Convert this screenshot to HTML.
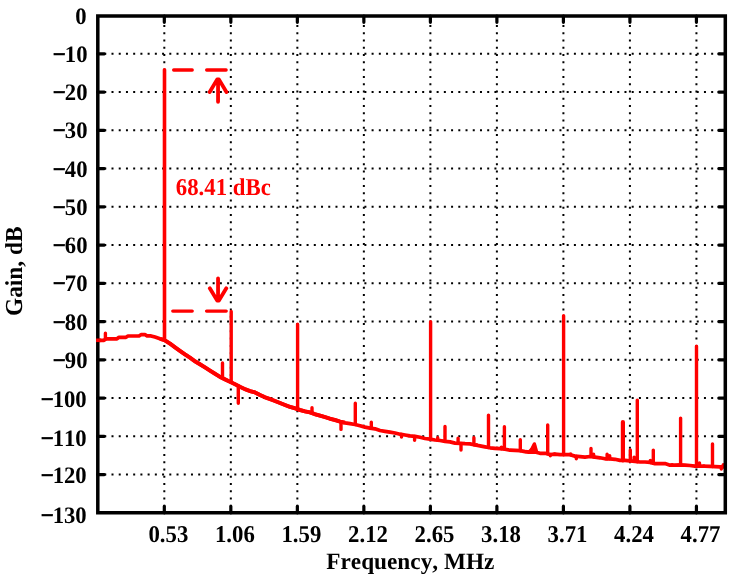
<!DOCTYPE html>
<html><head><meta charset="utf-8"><style>
html,body{margin:0;padding:0;background:#fff;width:733px;height:578px;overflow:hidden}
svg text{font-family:"Liberation Serif",serif;text-rendering:geometricPrecision;font-kerning:none}
svg{will-change:transform}
</style></head><body>
<svg width="733" height="578" viewBox="0 0 733 578" style="position:absolute;left:0;top:0">
<path d="M97.05 53.85H723.3 M97.05 92.09H723.3 M97.05 130.34H723.3 M97.05 168.58H723.3 M97.05 206.83H723.3 M97.05 245.08H723.3 M97.05 283.32H723.3 M97.05 321.57H723.3 M97.05 359.82H723.3 M97.05 398.06H723.3 M97.05 436.31H723.3 M97.05 474.55H723.3" stroke="#000" stroke-width="2" stroke-dasharray="2 5.225" fill="none"/>
<path d="M164.31 514.10V17.6 M230.83 514.10V17.6 M297.35 514.10V17.6 M363.86 514.10V17.6 M430.38 514.10V17.6 M496.89 514.10V17.6 M563.40 514.10V17.6 M629.92 514.10V17.6 M696.43 514.10V17.6" stroke="#000" stroke-width="2" stroke-dasharray="2 5.270" fill="none"/>
<path d="M97.8 53.85h6.5 M725.3 53.85h-6.5 M97.8 92.09h6.5 M725.3 92.09h-6.5 M97.8 130.34h6.5 M725.3 130.34h-6.5 M97.8 168.58h6.5 M725.3 168.58h-6.5 M97.8 206.83h6.5 M725.3 206.83h-6.5 M97.8 245.08h6.5 M725.3 245.08h-6.5 M97.8 283.32h6.5 M725.3 283.32h-6.5 M97.8 321.57h6.5 M725.3 321.57h-6.5 M97.8 359.82h6.5 M725.3 359.82h-6.5 M97.8 398.06h6.5 M725.3 398.06h-6.5 M97.8 436.31h6.5 M725.3 436.31h-6.5 M97.8 474.55h6.5 M725.3 474.55h-6.5 M164.31 512.8v-6.5 M164.31 16.2v6.1 M230.83 512.8v-6.5 M230.83 16.2v6.1 M297.35 512.8v-6.5 M297.35 16.2v6.1 M363.86 512.8v-6.5 M363.86 16.2v6.1 M430.38 512.8v-6.5 M430.38 16.2v6.1 M496.89 512.8v-6.5 M496.89 16.2v6.1 M563.40 512.8v-6.5 M563.40 16.2v6.1 M629.92 512.8v-6.5 M629.92 16.2v6.1 M696.43 512.8v-6.5 M696.43 16.2v6.1" stroke="#000" stroke-width="3.2" stroke-linecap="round" fill="none"/>
<path d="M97.8 340.3 L104.0 340.3 L106.0 338.8 L117.0 338.8 L119.0 337.3 L126.0 337.3 L128.0 336.0 L139.0 336.0 L141.0 334.7 L145.0 334.7 L147.0 335.8 L151.0 335.9 L155.0 337.1 L160.0 338.8 L164.5 340.1 L170.0 343.6 L175.0 347.3 L180.0 350.9 L185.0 354.4 L190.0 357.7 L195.0 361.3 L200.0 364.3 L205.0 367.4 L210.0 370.6 L215.0 373.8 L220.0 376.9 L225.0 379.4 L230.0 381.8 L235.0 384.2 L240.0 386.8 L245.0 389.2 L250.0 391.1 L255.0 392.4 L260.0 395.0 L265.0 397.3 L270.0 399.1 L275.0 401.0 L280.0 403.0 L285.0 405.0 L290.0 406.9 L295.0 408.3 L300.0 410.0 L305.0 411.4 L310.0 412.4 L315.0 414.2 L320.0 415.6 L325.0 417.1 L330.0 418.7 L335.0 420.0 L340.0 421.6 L345.0 422.8 L350.0 423.6 L355.0 424.5 L360.0 425.7 L365.0 427.1 L370.0 428.1 L375.0 428.8 L380.0 430.5 L385.0 431.4 L390.0 432.2 L395.0 433.0 L400.0 434.2 L405.0 435.0 L410.0 435.9 L415.0 436.4 L420.0 437.3 L425.0 438.5 L430.0 439.2 L435.0 440.0 L440.0 440.5 L445.0 441.3 L450.0 441.9 L455.0 443.1 L460.0 443.3 L465.0 443.7 L470.0 443.9 L475.0 445.0 L480.0 445.9 L485.0 446.9 L490.0 447.8 L495.0 448.3 L500.0 448.7 L505.0 449.2 L510.0 450.2 L515.0 450.4 L520.0 450.6 L525.0 451.6 L530.0 452.1 L535.0 452.0 L540.0 453.3 L545.0 453.3 L550.0 454.5 L555.0 454.2 L560.0 454.7 L565.0 454.7 L570.0 454.7 L575.0 456.1 L580.0 456.6 L585.0 457.1 L590.0 456.5 L595.0 457.2 L600.0 457.8 L605.0 458.8 L610.0 458.8 L615.0 459.3 L620.0 460.4 L625.0 460.4 L630.0 460.9 L635.0 461.4 L640.0 462.0 L645.0 462.0 L650.0 462.4 L655.0 463.6 L660.0 463.6 L665.0 463.6 L670.0 465.2 L675.0 465.2 L680.0 464.8 L685.0 465.2 L690.0 465.5 L695.0 466.2 L700.0 466.0 L710.0 466.4 L720.0 466.8 L725.3 466.6" stroke="#ff0000" stroke-width="3.7" fill="none" stroke-linejoin="round"/>
<path d="M160.0 338.8 L164.5 340.1 L170.0 343.6 L175.0 347.3 L180.0 350.9 L185.0 354.4 L190.0 357.7 L195.0 361.3 L200.0 364.3 L205.0 367.4 L210.0 370.6 L215.0 373.8 L220.0 376.9 L225.0 379.4 L230.0 381.8 L235.0 384.2 L240.0 386.8 L245.0 389.2 L250.0 391.1 L255.0 392.4 L260.0 395.0 L265.0 397.3 L270.0 399.1 L275.0 401.0 L280.0 403.0 L285.0 405.0 L290.0 406.9 L295.0 408.3 L300.0 410.0 L305.0 411.4 L310.0 412.4 L315.0 414.2 L320.0 415.6 L325.0 417.1 L330.0 418.7 L335.0 420.0 L340.0 421.6 L345.0 422.8" stroke="#ff0000" stroke-width="4.0" fill="none" stroke-linejoin="round"/>
<path d="M105.4 339.2V333.2 M222.5 378.1V363.0 M231.2 382.4V311.4 M297.6 409.2V324.3 M312.0 413.1V407.8 M355.3 424.6V403.2 M371.3 428.3V422.2 M430.6 439.3V321.6 M437.7 440.3V437.7 M445.0 441.3V426.5 M458.1 443.2V438.1 M473.9 444.8V437.7 M476.6 445.3V444.7 M488.5 447.5V415.1 M501.4 448.8V447.1 M504.4 449.1V426.7 M520.3 450.7V439.8 M526.1 451.7V451.4 M531.3 452.1V449.7 M534.4 452.0V445.2 M547.7 453.9V425.0 M554.5 454.2V454.0 M563.6 454.7V315.7 M570.7 454.9V454.0 M591.0 456.6V448.5 M593.6 457.0V454.3 M607.1 458.8V454.3 M609.7 458.8V455.8 M630.3 460.9V449.9 M634.1 461.3V457.2 M637.3 461.7V400.1 M650.3 462.5V460.5 M653.3 463.2V450.1 M672.1 465.2V464.7 M680.6 464.8V418.1 M696.5 466.1V346.2 M699.5 466.0V462.9 M703.9 466.2V465.9 M712.5 466.5V444.0 M723.3 466.7V464.6 M238.3 385.9V403.2 M341.0 421.8V429.4 M401.5 434.4V437.1 M414.6 436.4V440.3 M461.0 443.4V450.1 M550.3 454.5V455.8 M576.3 456.2V458.7 M721.3 466.8V469.0" stroke="#ff0000" stroke-width="3.4" fill="none" stroke-linecap="round"/>
<path d="M528.5 452.3 L531.5 449.5 L534.4 443.8 L536.6 451.5" stroke="#ff0000" stroke-width="3.2" fill="none" stroke-linejoin="round" stroke-linecap="round"/>
<path d="M164.5 340.1V69.8" stroke="#ff0000" stroke-width="3.6" fill="none" stroke-linecap="round"/>
<path d="M622.9 460.4V422.1" stroke="#ff0000" stroke-width="4.2" fill="none" stroke-linecap="round"/>
<path d="M173.7 70.0H192.2 M206.7 70.0H226.1 M172.8 311.1H192.2 M206.6 311.1H226.2" stroke="#ff0000" stroke-width="3.4" fill="none" stroke-linecap="round"/>
<path d="M218.05 80V101.8 M209.7 92.0L217.2 79.4 H218.9 L226.4 92.0 M218.05 278.5V300 M209.8 288.3L217.2 300.6 H218.9 L226.3 288.3" stroke="#ff0000" stroke-width="3.8" fill="none" stroke-linecap="round" stroke-linejoin="round"/>
<text transform="translate(175.8,194.9) scale(0.978,1.04)" x="0" y="0" font-family="Liberation Serif" font-weight="bold" font-size="23.3" fill="#ff0000">68.41 dBc</text>
<path d="M97.80 14.20V514.55 M725.30 14.20V514.55 M96.05 16.00H727.05 M96.05 512.80H727.05" stroke="#000" stroke-width="3.5" fill="none"/>
<path d="M96.1 340.3H101" stroke="#ff0000" stroke-width="3.6" fill="none"/>
<g font-family="Liberation Serif" font-weight="bold" font-size="23" fill="#000"><text transform="translate(86.5,23.7) scale(0.985,1.025)" text-anchor="end">0</text><text transform="translate(87.5,61.8) scale(0.985,1.025)" text-anchor="end"><tspan stroke="#000" stroke-width="0.7">−</tspan><tspan dx="-0.9">10</tspan></text><text transform="translate(87.5,100.1) scale(0.985,1.025)" text-anchor="end"><tspan stroke="#000" stroke-width="0.7">−</tspan><tspan dx="-0.9">20</tspan></text><text transform="translate(87.5,138.3) scale(0.985,1.025)" text-anchor="end"><tspan stroke="#000" stroke-width="0.7">−</tspan><tspan dx="-0.9">30</tspan></text><text transform="translate(87.5,176.6) scale(0.985,1.025)" text-anchor="end"><tspan stroke="#000" stroke-width="0.7">−</tspan><tspan dx="-0.9">40</tspan></text><text transform="translate(87.5,214.8) scale(0.985,1.025)" text-anchor="end"><tspan stroke="#000" stroke-width="0.7">−</tspan><tspan dx="-0.9">50</tspan></text><text transform="translate(87.5,253.1) scale(0.985,1.025)" text-anchor="end"><tspan stroke="#000" stroke-width="0.7">−</tspan><tspan dx="-0.9">60</tspan></text><text transform="translate(87.5,291.3) scale(0.985,1.025)" text-anchor="end"><tspan stroke="#000" stroke-width="0.7">−</tspan><tspan dx="-0.9">70</tspan></text><text transform="translate(87.5,329.6) scale(0.985,1.025)" text-anchor="end"><tspan stroke="#000" stroke-width="0.7">−</tspan><tspan dx="-0.9">80</tspan></text><text transform="translate(87.5,367.8) scale(0.985,1.025)" text-anchor="end"><tspan stroke="#000" stroke-width="0.7">−</tspan><tspan dx="-0.9">90</tspan></text><text transform="translate(86.7,407.3) scale(0.985,1.025)" text-anchor="end"><tspan stroke="#000" stroke-width="0.7">−</tspan><tspan dx="-0.9">100</tspan></text><text transform="translate(86.7,445.9) scale(0.985,1.025)" text-anchor="end"><tspan stroke="#000" stroke-width="0.7">−</tspan><tspan dx="-0.9">110</tspan></text><text transform="translate(86.7,483.1) scale(0.985,1.025)" text-anchor="end"><tspan stroke="#000" stroke-width="0.7">−</tspan><tspan dx="-0.9">120</tspan></text><text transform="translate(86.7,523.2) scale(0.985,1.025)" text-anchor="end"><tspan stroke="#000" stroke-width="0.7">−</tspan><tspan dx="-0.9">130</tspan></text><text transform="translate(168.4,541.6) scale(0.99,1.05)" text-anchor="middle">0.53</text><text transform="translate(234.9,541.6) scale(0.99,1.05)" text-anchor="middle">1.06</text><text transform="translate(301.4,541.6) scale(0.99,1.05)" text-anchor="middle">1.59</text><text transform="translate(368.0,541.6) scale(0.99,1.05)" text-anchor="middle">2.12</text><text transform="translate(434.5,541.6) scale(0.99,1.05)" text-anchor="middle">2.65</text><text transform="translate(501.0,541.6) scale(0.99,1.05)" text-anchor="middle">3.18</text><text transform="translate(567.5,541.6) scale(0.99,1.05)" text-anchor="middle">3.71</text><text transform="translate(634.0,541.6) scale(0.99,1.05)" text-anchor="middle">4.24</text><text transform="translate(700.5,541.6) scale(0.99,1.05)" text-anchor="middle">4.77</text><text transform="translate(410.3,568.6) scale(1.012,1.02)" text-anchor="middle">Frequency, MHz</text><text transform="translate(21.6,271.2) rotate(-90) scale(1.015,1.06)" text-anchor="middle">Gain, dB</text></g>
</svg>
</body></html>
